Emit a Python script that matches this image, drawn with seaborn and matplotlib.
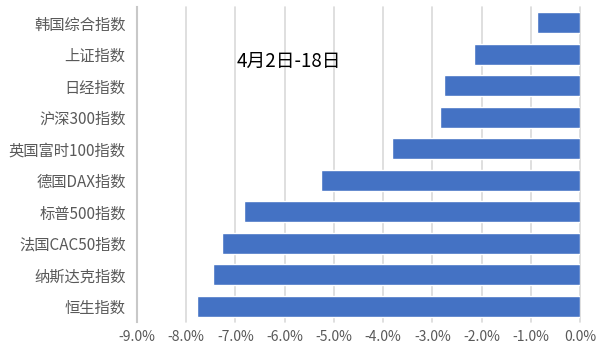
import matplotlib
matplotlib.use("Agg")
import matplotlib.pyplot as plt
import seaborn as sns
import pandas as pd

indices = ["韩国综合指数", "上证指数", "日经指数", "沪深300指数", "英国富时100指数",
           "德国DAX指数", "标普500指数", "法国CAC50指数", "纳斯达克指数", "恒生指数"]
changes = [-0.87, -2.16, -2.76, -2.84, -3.83, -5.27, -6.82, -7.27, -7.45, -7.77]
x_ticks = [-9, -8, -7, -6, -5, -4, -3, -2, -1, 0]
x_tick_labels = ["-9.0%", "-8.0%", "-7.0%", "-6.0%", "-5.0%", "-4.0%", "-3.0%", "-2.0%", "-1.0%", "0.0%"]
annotation = "4月2日-18日"

sns.set_theme(style="white")
plt.rcParams['font.family'] = ['Noto Sans CJK SC', 'DejaVu Sans']

df = pd.DataFrame({"index": indices, "change": changes})

fig = plt.figure(figsize=(6.0, 3.55), dpi=100)
ax = fig.add_axes([0.228, 0.093, 0.739, 0.887])

sns.barplot(data=df, x="change", y="index", orient="h", color="#4472C4",
            saturation=1, width=0.66, ax=ax)

ax.set_xlim(-9, 0)
ax.set_xticks(x_ticks)
ax.set_xticklabels(x_tick_labels)
ax.set_xlabel("")
ax.set_ylabel("")
ax.grid(axis="x", color="#D9D9D9", linewidth=1.2)
for gl in ax.get_xgridlines():
    gl.set_clip_on(False)
ax.set_axisbelow(True)
for name, s in ax.spines.items():
    s.set_visible(name == "left")
ax.spines["left"].set_color("#C8C8C8")
ax.spines["left"].set_linewidth(1.5)
ax.tick_params(axis="both", length=0, colors="#595959")
ax.tick_params(axis="y", pad=8, labelsize=11)
ax.tick_params(axis="x", pad=6, labelsize=10)

ax.text(0.226, 0.826, annotation, transform=ax.transAxes, fontsize=13.5,
        color="black", ha="left", va="center")

fig.savefig("out.png", dpi=100)
